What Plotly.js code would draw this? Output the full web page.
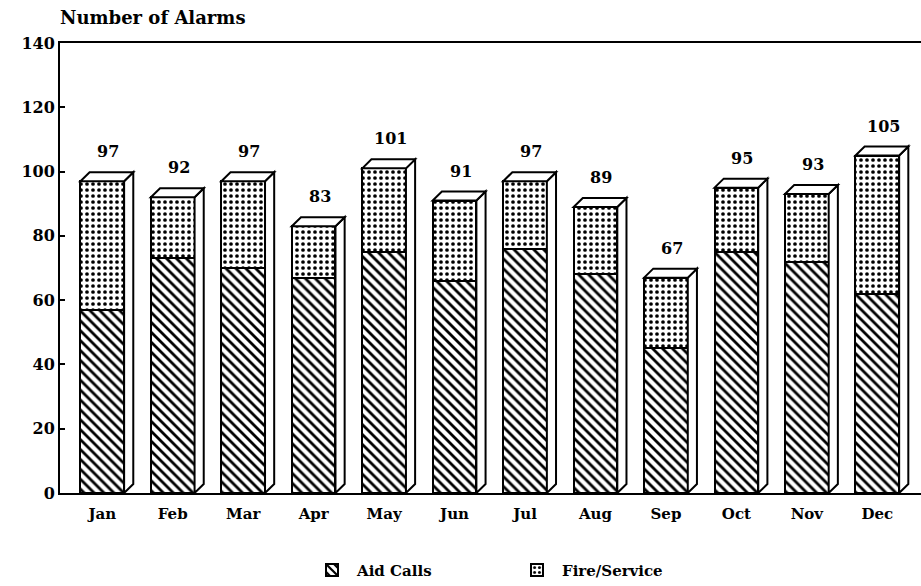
<!DOCTYPE html>
<html>
<head>
<meta charset="utf-8">
<script src="https://cdn.plot.ly/plotly-3.0.1.min.js"></script>
<style>html,body{margin:0;padding:0;background:#fff;}#chart{width:921px;height:586px;}</style>
</head>
<body>
<div id="chart"></div>
<script>
const months = ["Jan","Feb","Mar","Apr","May","Jun","Jul","Aug","Sep","Oct","Nov","Dec"];
const monthLabels = ["Jan","Feb","Mar","Apr","May","Jun","Jul","Aug","Sep","Oct","Nov","Dec"];
const totals = [97, 92, 97, 83, 101, 91, 97, 89, 67, 95, 93, 105];
const aidCalls = [57, 73, 70, 67, 75, 66, 76, 68, 45, 75, 72, 62];
const fireService = totals.map((t, i) => t - aidCalls[i]);
const yTicks = [0, 20, 40, 60, 80, 100, 120, 140];

const FONT = "DejaVu Serif, Liberation Serif, serif";
const barW = 0.62;
const depthX = 0.13, depthY = 2.8;
const xs = months.map((m, i) => i);

const traces = [
  {
    type: "bar", name: "Aid Calls", x: xs, y: aidCalls, width: barW,
    marker: { color: "#fff", line: { color: "#000", width: 2 },
      pattern: { shape: "\\", fgcolor: "#000", bgcolor: "#fff", size: 7, solidity: 0.4 } },
    hoverinfo: "skip"
  },
  {
    type: "bar", name: "Fire/Service", x: xs, y: fireService, width: barW,
    marker: { color: "#fff", line: { color: "#000", width: 2 },
      pattern: { shape: ".", fgcolor: "#000", bgcolor: "#fff", size: 6, solidity: 0.3 } },
    hoverinfo: "skip"
  }
];

const shapes = [];
xs.forEach((x, i) => {
  const r = x + barW / 2, l = x - barW / 2, t = totals[i];
  shapes.push({
    type: "path", xref: "x", yref: "y", layer: "above",
    path: `M${r},0 L${r + depthX},${depthY} L${r + depthX},${t + depthY} L${r},${t} Z`,
    fillcolor: "#fff", line: { color: "#000", width: 2 }
  });
  shapes.push({
    type: "path", xref: "x", yref: "y", layer: "above",
    path: `M${l},${t} L${l + depthX},${t + depthY} L${r + depthX},${t + depthY} L${r},${t} Z`,
    fillcolor: "#fff", line: { color: "#000", width: 2 }
  });
});

const annotations = xs.map((x, i) => ({
  x: x, y: totals[i], xref: "x", yref: "y", text: String(totals[i]),
  showarrow: false, yanchor: "bottom", yshift: 18, xshift: 6,
  font: { family: FONT, size: 16, color: "#000", weight: "bold" }
}));

const layout = {
  width: 921, height: 586,
  margin: { l: 60, r: 0, t: 43, b: 93, autoexpand: false },
  paper_bgcolor: "#fff", plot_bgcolor: "#fff",
  barmode: "stack", bargap: 0.38,
  showlegend: true,
  legend: { orientation: "h", x: 0.525, xanchor: "center", y: -0.135, yanchor: "top",
    font: { family: FONT, size: 15, color: "#000", weight: "bold" },
    itemwidth: 40, entrywidth: 150, entrywidthmode: "pixels", traceorder: "normal" },
  title: { text: "Number of Alarms", x: 0, xref: "paper", xanchor: "left",
    y: 0.98, yref: "container", yanchor: "top",
    font: { family: FONT, size: 18, color: "#000", weight: "bold" } },
  xaxis: {
    range: [-0.6, 11.62], tickmode: "array", tickvals: xs, ticktext: monthLabels,
    showline: true, linecolor: "#000", linewidth: 2, mirror: true, ticks: "",
    ticklabelstandoff: 6,
    showgrid: false, zeroline: false, fixedrange: true,
    tickfont: { family: FONT, size: 15, color: "#000", weight: "bold" }
  },
  yaxis: {
    range: [0, 140], tickmode: "array", tickvals: yTicks, ticktext: yTicks.map(String),
    showline: true, linecolor: "#000", linewidth: 2, ticks: "inside", ticklen: 5, tickwidth: 2,
    tickcolor: "#000", showgrid: false, zeroline: false, fixedrange: true,
    tickfont: { family: FONT, size: 16, color: "#000", weight: "bold" }
  },
  shapes: shapes,
  annotations: annotations
};

Plotly.newPlot("chart", traces, layout, { displayModeBar: false, staticPlot: true });
</script>
</body>
</html>
